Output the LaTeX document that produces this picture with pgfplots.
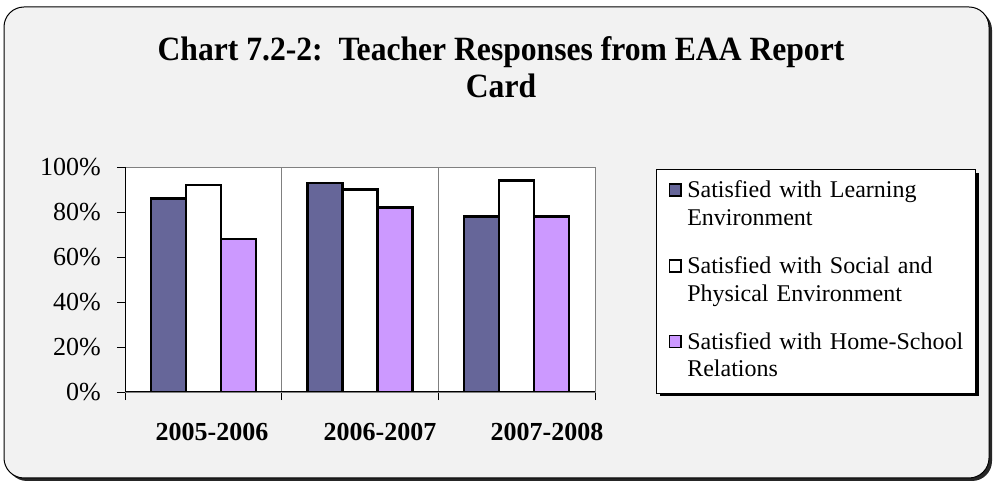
\documentclass[border=0pt]{standalone}
\usepackage{pgfplots}
\pgfplotsset{compat=1.18}
\usepackage{fontspec}
\setmainfont{Liberation Serif}
\newfontfamily\titlefont[FakeStretch=0.93]{Liberation Serif}
\definecolor{bardark}{HTML}{666699}
\definecolor{barlilac}{HTML}{CC99FF}
\definecolor{panel}{HTML}{F2F2F2}
\begin{document}
\begin{tikzpicture}
\useasboundingbox (0pt,0pt) rectangle (997pt,485pt);
\fill[black!85, rounded corners=20pt] (7pt,4pt) rectangle (992pt,475pt);
\draw[fill=panel, rounded corners=20pt, line width=1pt] (4pt,7pt) rectangle (989pt,478pt);
\node[anchor=north, inner sep=0pt, align=center, font=\titlefont\bfseries\fontsize{34}{37}\selectfont] at (501pt,448.5pt) {Chart 7.2-2:\ \ Teacher Responses from EAA Report\\Card};
% legend shadow
\fill[black] (660pt,89pt) rectangle (979pt,312pt);
\begin{axis}[
  at={(125pt,93pt)}, anchor=south west,
  scale only axis, width=470pt, height=225pt,
  xmin=-0.5, xmax=2.5, ymin=0, ymax=100,
  enlargelimits=false,
  axis background/.style={fill=white},
  axis line style={draw=gray, line width=0.8pt},
  ybar, bar width=35pt,
  ytick={0,20,40,60,80,100},
  yticklabel={\pgfmathprintnumber{\tick}\%},
  ytick pos=left,
  tick align=outside,
  major tick length=8pt, minor tick length=8pt,
  xtick={0.055,1.128,2.194},
  xticklabels={2005-2006,2006-2007,2007-2008},
  tick style={black, line width=0.8pt},
  major x tick style={draw=none},
  minor xtick={-0.5,0.5,1.5,2.5},
  xtick pos=bottom,
  xminorgrids=true,
  minor x grid style={gray, line width=0.8pt},
  /pgf/number format/assume math mode=true,
  yticklabel style={font=\fontsize{26}{30}\selectfont, inner sep=0pt, anchor=east, xshift=-16pt},
  xticklabel style={font=\bfseries\fontsize{26}{30}\selectfont, inner sep=0pt, anchor=north, yshift=-23pt},
  legend style={at={(1.1298,0.991)}, anchor=north west, draw=black, line width=1pt, fill=white,
    inner xsep=12pt, inner ysep=8.5pt, row sep=20pt, column sep=5.5pt,
    font=\fontsize{24}{27.6}\selectfont,
    cells={anchor=north west},
    nodes={inner sep=0pt, text depth={}, anchor=north west, align=left, text width=276pt}},
  legend image code/.code={\draw[#1, line width=1.6pt] (0.8pt,-6pt) rectangle (12.5pt,-18pt);},
  after end axis/.code={\draw[black, line width=1pt] (rel axis cs:0,1) -- (rel axis cs:0,0) -- (rel axis cs:1,0);},
]
\addplot[fill=bardark, draw=black, line width=2.2pt, bar shift=-35pt] coordinates {(0,86) (1,93) (2,78)};
\addlegendentry{\strut Satisfied with Learning\\\strut Environment}
\addplot[fill=white, draw=black, line width=2.2pt, bar shift=0pt] coordinates {(0,92) (1,90) (2,94)};
\addlegendentry{\strut Satisfied with Social and\\\strut Physical Environment}
\addplot[fill=barlilac, draw=black, line width=2.2pt, bar shift=35pt] coordinates {(0,68) (1,82) (2,78)};
\addlegendentry{\strut Satisfied with Home-School\\\strut Relations}
\end{axis}
\end{tikzpicture}
\end{document}
